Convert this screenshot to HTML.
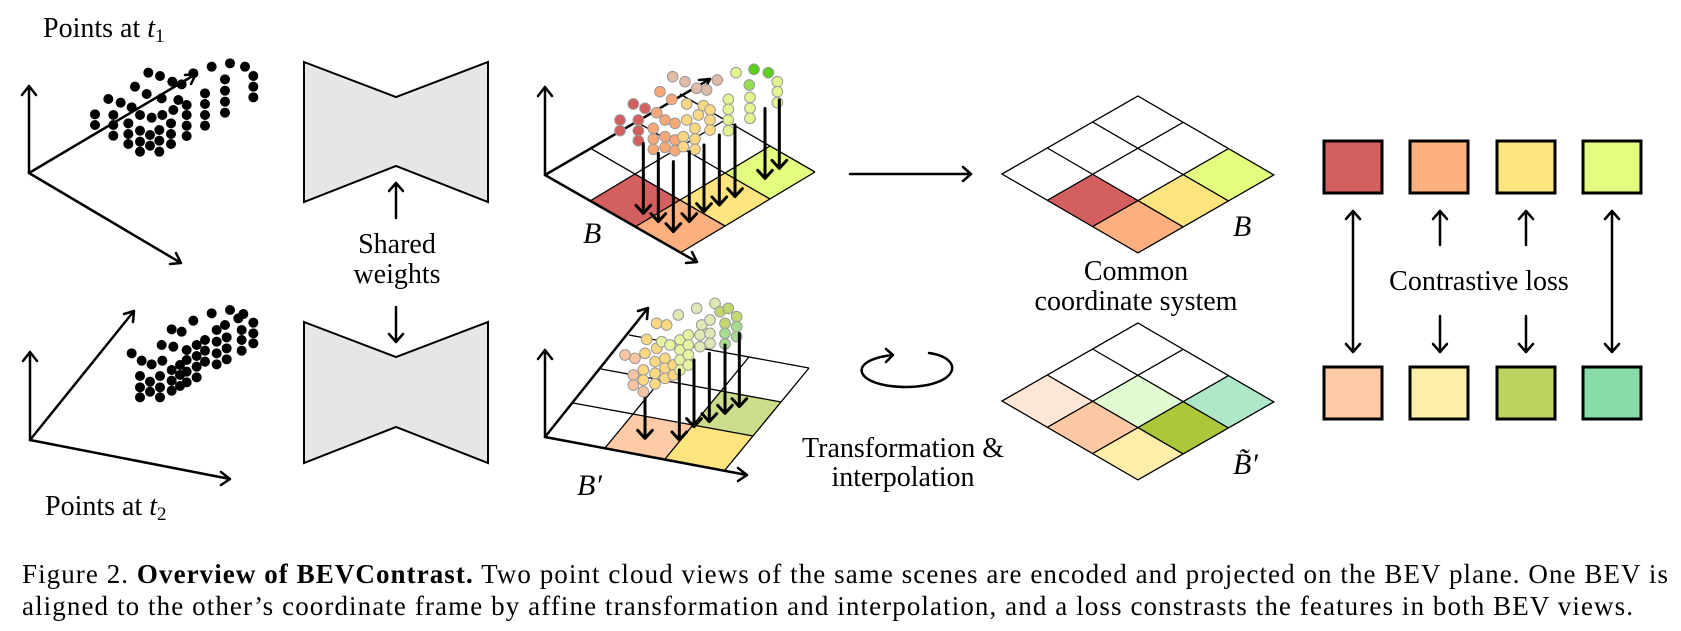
<!DOCTYPE html>
<html><head><meta charset="utf-8"><style>
html,body{margin:0;padding:0;background:#fff;}
svg{display:block;font-family:"Liberation Serif","Times New Roman",serif;}
text{font-family:"Liberation Serif","Times New Roman",serif;fill:#000;}
</style></head><body>
<svg width="1681" height="631" viewBox="0 0 1681 631" xmlns="http://www.w3.org/2000/svg" font-family="Liberation Serif, serif">
<style>
.ax{stroke:#000;stroke-width:2.5;fill:none;stroke-linecap:round;stroke-linejoin:round;}
</style>

<text x="43" y="37" font-size="28">Points at <tspan font-style="italic">t</tspan><tspan font-size="19" dy="5">1</tspan></text>
<text x="45" y="515" font-size="28">Points at <tspan font-style="italic">t</tspan><tspan font-size="19" dy="5">2</tspan></text>

<g class="ax">
<path d="M29 173 L29 86 M22 95 L29 86 L36 95"/>
<path d="M29 173 L196 74 M185 75 L196 74 L191 84"/>
<path d="M29 173 L181 263 M176 253 L181 263 L170 264"/>
<path d="M30 440 L30 352 M23 361 L30 352 L37 361"/>
<path d="M30 440 L134 311 M124 314 L134 311 L133 322"/>
<path d="M30 440 L230 479 M221 472 L230 479 L221 485"/>
</g>

<g transform="scale(0.33333)" fill="#000">
<g>
<circle cx="445" cy="218" r="15"/><circle cx="480" cy="228" r="15"/><circle cx="517" cy="245" r="15"/><circle cx="545" cy="253" r="15"/><circle cx="580" cy="220" r="15"/><circle cx="635" cy="200" r="15"/><circle cx="690" cy="190" r="15"/><circle cx="735" cy="200" r="15"/><circle cx="760" cy="228" r="15"/><circle cx="760" cy="260" r="15"/><circle cx="760" cy="292" r="15"/><circle cx="675" cy="238" r="15"/><circle cx="675" cy="272" r="15"/><circle cx="675" cy="305" r="15"/><circle cx="675" cy="338" r="15"/><circle cx="615" cy="280" r="15"/><circle cx="615" cy="312" r="15"/><circle cx="615" cy="345" r="15"/><circle cx="615" cy="377" r="15"/><circle cx="405" cy="260" r="15"/><circle cx="440" cy="282" r="15"/><circle cx="485" cy="295" r="15"/><circle cx="535" cy="300" r="15"/><circle cx="560" cy="315" r="15"/><circle cx="560" cy="345" r="15"/><circle cx="560" cy="377" r="15"/><circle cx="560" cy="408" r="15"/><circle cx="325" cy="297" r="15"/><circle cx="362" cy="308" r="15"/><circle cx="395" cy="322" r="15"/><circle cx="420" cy="345" r="15"/><circle cx="455" cy="353" r="15"/><circle cx="487" cy="345" r="15"/><circle cx="520" cy="330" r="15"/><circle cx="285" cy="343" r="15"/><circle cx="285" cy="375" r="15"/><circle cx="340" cy="345" r="15"/><circle cx="340" cy="375" r="15"/><circle cx="340" cy="407" r="15"/><circle cx="385" cy="370" r="15"/><circle cx="385" cy="402" r="15"/><circle cx="385" cy="432" r="15"/><circle cx="420" cy="392" r="15"/><circle cx="420" cy="425" r="15"/><circle cx="420" cy="455" r="15"/><circle cx="450" cy="405" r="15"/><circle cx="450" cy="437" r="15"/><circle cx="478" cy="390" r="15"/><circle cx="478" cy="422" r="15"/><circle cx="478" cy="455" r="15"/><circle cx="513" cy="370" r="15"/><circle cx="513" cy="402" r="15"/><circle cx="513" cy="432" r="15"/>
</g>
<g>
<circle cx="635" cy="940" r="15"/><circle cx="690" cy="930" r="15"/><circle cx="730" cy="942" r="15"/><circle cx="715" cy="955" r="15"/><circle cx="760" cy="968" r="15"/><circle cx="760" cy="1000" r="15"/><circle cx="760" cy="1030" r="15"/><circle cx="725" cy="990" r="15"/><circle cx="725" cy="1020" r="15"/><circle cx="725" cy="1052" r="15"/><circle cx="675" cy="975" r="15"/><circle cx="650" cy="990" r="15"/><circle cx="680" cy="1012" r="15"/><circle cx="680" cy="1045" r="15"/><circle cx="680" cy="1078" r="15"/><circle cx="650" cy="1025" r="15"/><circle cx="650" cy="1060" r="15"/><circle cx="650" cy="1093" r="15"/><circle cx="580" cy="962" r="15"/><circle cx="515" cy="988" r="15"/><circle cx="545" cy="995" r="15"/><circle cx="485" cy="1035" r="15"/><circle cx="395" cy="1060" r="15"/><circle cx="425" cy="1082" r="15"/><circle cx="455" cy="1093" r="15"/><circle cx="487" cy="1082" r="15"/><circle cx="520" cy="1040" r="15"/><circle cx="560" cy="1050" r="15"/><circle cx="590" cy="1035" r="15"/><circle cx="615" cy="1020" r="15"/><circle cx="615" cy="1052" r="15"/><circle cx="615" cy="1085" r="15"/><circle cx="590" cy="1068" r="15"/><circle cx="590" cy="1100" r="15"/><circle cx="590" cy="1132" r="15"/><circle cx="560" cy="1080" r="15"/><circle cx="560" cy="1115" r="15"/><circle cx="560" cy="1147" r="15"/><circle cx="540" cy="1095" r="15"/><circle cx="540" cy="1125" r="15"/><circle cx="540" cy="1158" r="15"/><circle cx="515" cy="1110" r="15"/><circle cx="515" cy="1142" r="15"/><circle cx="515" cy="1172" r="15"/><circle cx="480" cy="1128" r="15"/><circle cx="480" cy="1162" r="15"/><circle cx="480" cy="1192" r="15"/><circle cx="450" cy="1145" r="15"/><circle cx="450" cy="1175" r="15"/><circle cx="420" cy="1128" r="15"/><circle cx="420" cy="1162" r="15"/><circle cx="420" cy="1192" r="15"/>
</g>
</g>

<polygon points="304,62 396,97 488,62 488,202 396,166 304,202" fill="#e6e6e6" stroke="#000" stroke-width="2"/>
<polygon points="304,322 396,357 488,322 488,463 396,427 304,463" fill="#e6e6e6" stroke="#000" stroke-width="2"/>
<g class="ax" stroke-width="2">
<path d="M396 218 L396 183 M389 191 L396 183 L403 191"/>
<path d="M396 307 L396 342 M389 334 L396 342 L403 334"/>
</g>
<text x="397" y="253" font-size="28" text-anchor="middle">Shared</text>
<text x="397" y="283" font-size="28" text-anchor="middle">weights</text>

<g transform="matrix(45,-27,45,26,545,175)">
<rect x="0" y="1" width="1" height="1" fill="#d45f5f"/>
<rect x="0" y="2" width="1" height="1" fill="#fdb07f"/>
<rect x="1" y="2" width="1" height="1" fill="#fde47f"/>
<rect x="2" y="2" width="1" height="1" fill="#e3fd7f"/>
<path vector-effect="non-scaling-stroke" stroke="#000" stroke-width="1.3" fill="none" d="M1 0 L1 3 M2 0 L2 3 M3 0 L3 3 M0 1 L3 1 M0 2 L3 2 M0 3 L3 3"/>
</g>
<g class="ax">
<path d="M545 175 L545 87 M538 96 L545 87 L552 96"/>
<path d="M545 175 L710 79 M699 80 L710 79 L705 89"/>
<path d="M545 175 L697 262 M692 252 L697 262 L686 263"/>
</g>

<g transform="matrix(28,-34,60,11,545,437)">
<rect x="0" y="1" width="1" height="1" fill="#fecba7"/>
<rect x="0" y="2" width="1" height="1" fill="#fde47f"/>
<rect x="1" y="2" width="1" height="1" fill="#cbdc8a"/>
<path vector-effect="non-scaling-stroke" stroke="#000" stroke-width="1.3" fill="none" d="M1 0 L1 3 M2 0 L2 3 M3 0 L3 3 M0 1 L3 1 M0 2 L3 2 M0 3 L3 3"/>
</g>
<g class="ax">
<path d="M545 437 L545 350 M538 359 L545 350 L552 359"/>
<path d="M545 437 L648 308 M638 311 L648 308 L647 319"/>
<path d="M545 437 L747 475 M738 468 L747 475 L738 481"/>
</g>

<g transform="translate(480,40) scale(0.33333)" stroke="#999" stroke-width="3">
<g fill="#d45f5f"><circle cx="460" cy="192" r="16"/><circle cx="495" cy="205" r="16"/><circle cx="420" cy="240" r="16"/><circle cx="420" cy="272" r="16"/><circle cx="475" cy="240" r="16"/><circle cx="475" cy="272" r="16"/><circle cx="475" cy="302" r="16"/></g>
<g fill="#e2bba8"><circle cx="578" cy="110" r="16"/><circle cx="615" cy="125" r="16"/><circle cx="650" cy="145" r="16"/><circle cx="680" cy="150" r="16"/><circle cx="712" cy="120" r="16"/></g>
<g fill="#f8a878"><circle cx="540" cy="155" r="16"/><circle cx="575" cy="178" r="16"/><circle cx="530" cy="218" r="16"/><circle cx="520" cy="265" r="16"/><circle cx="520" cy="297" r="16"/><circle cx="520" cy="328" r="16"/><circle cx="555" cy="240" r="16"/><circle cx="555" cy="290" r="16"/><circle cx="555" cy="322" r="16"/><circle cx="585" cy="250" r="16"/><circle cx="585" cy="300" r="16"/><circle cx="585" cy="332" r="16"/></g>
<g fill="#fdd882"><circle cx="620" cy="192" r="16"/><circle cx="620" cy="240" r="16"/><circle cx="655" cy="225" r="16"/><circle cx="670" cy="197" r="16"/><circle cx="690" cy="210" r="16"/><circle cx="690" cy="240" r="16"/><circle cx="690" cy="270" r="16"/><circle cx="645" cy="265" r="16"/><circle cx="645" cy="297" r="16"/><circle cx="645" cy="328" r="16"/><circle cx="610" cy="290" r="16"/><circle cx="610" cy="320" r="16"/></g>
<g fill="#e2f590"><circle cx="768" cy="98" r="16"/><circle cx="745" cy="178" r="16"/><circle cx="745" cy="208" r="16"/><circle cx="745" cy="240" r="16"/><circle cx="745" cy="272" r="16"/><circle cx="810" cy="172" r="16"/><circle cx="810" cy="205" r="16"/><circle cx="810" cy="235" r="16"/><circle cx="892" cy="125" r="16"/><circle cx="892" cy="155" r="16"/><circle cx="892" cy="188" r="16"/></g>
<g fill="#5ccf1c"><circle cx="822" cy="88" r="16"/><circle cx="865" cy="98" r="16"/></g>
<circle cx="808" cy="135" r="16" fill="#90e050"/>

<g fill="#f8c4a2"><circle cx="435" cy="945" r="16"/><circle cx="465" cy="955" r="16"/><circle cx="460" cy="1005" r="16"/><circle cx="460" cy="1035" r="16"/><circle cx="490" cy="1055" r="16"/></g>
<g fill="#fcd882"><circle cx="530" cy="850" r="16"/><circle cx="560" cy="855" r="16"/><circle cx="500" cy="898" r="16"/><circle cx="495" cy="940" r="16"/><circle cx="530" cy="925" r="16"/><circle cx="490" cy="990" r="16"/><circle cx="490" cy="1020" r="16"/><circle cx="525" cy="965" r="16"/><circle cx="525" cy="1000" r="16"/><circle cx="525" cy="1032" r="16"/><circle cx="555" cy="955" r="16"/><circle cx="555" cy="985" r="16"/><circle cx="555" cy="1015" r="16"/><circle cx="580" cy="975" r="16"/><circle cx="580" cy="1005" r="16"/></g>
<g fill="#e8f5a0"><circle cx="545" cy="905" r="16"/><circle cx="570" cy="915" r="16"/><circle cx="600" cy="900" r="16"/><circle cx="600" cy="930" r="16"/><circle cx="600" cy="960" r="16"/><circle cx="600" cy="990" r="16"/><circle cx="625" cy="885" r="16"/><circle cx="625" cy="915" r="16"/><circle cx="625" cy="945" r="16"/><circle cx="625" cy="975" r="16"/></g>
<g fill="#dde8b5"><circle cx="595" cy="825" r="16"/><circle cx="650" cy="805" r="16"/><circle cx="705" cy="790" r="16"/><circle cx="665" cy="855" r="16"/><circle cx="690" cy="840" r="16"/><circle cx="660" cy="885" r="16"/><circle cx="690" cy="880" r="16"/><circle cx="660" cy="920" r="16"/><circle cx="690" cy="910" r="16"/></g>
<g fill="#c2d870"><circle cx="720" cy="815" r="16"/><circle cx="745" cy="805" r="16"/><circle cx="770" cy="830" r="16"/><circle cx="735" cy="850" r="16"/></g>
<g fill="#a8dc90"><circle cx="770" cy="860" r="16"/><circle cx="735" cy="880" r="16"/><circle cx="770" cy="890" r="16"/><circle cx="735" cy="912" r="16"/></g>

<g stroke="#000" stroke-width="9" fill="none" stroke-linecap="round" stroke-linejoin="round">
<path d="M490 310 V520 M468 496 L490 520 L512 496"/>
<path d="M535 340 V545 M513 521 L535 545 L557 521"/>
<path d="M580 365 V575 M558 551 L580 575 L602 551"/>
<path d="M628 335 V545 M606 521 L628 545 L650 521"/>
<path d="M672 315 V515 M650 491 L672 515 L694 491"/>
<path d="M718 285 V495 M696 471 L718 495 L740 471"/>
<path d="M765 255 V470 M743 446 L765 470 L787 446"/>
<path d="M855 205 V415 M833 391 L855 415 L877 391"/>
<path d="M898 180 V385 M876 361 L898 385 L920 361"/>
<path d="M495 1075 V1195 M473 1171 L495 1195 L517 1171"/>
<path d="M598 990 V1200 M576 1176 L598 1200 L620 1176"/>
<path d="M642 960 V1160 M620 1136 L642 1160 L664 1136"/>
<path d="M688 940 V1145 M666 1121 L688 1145 L710 1121"/>
<path d="M735 915 V1120 M713 1096 L735 1120 L757 1096"/>
<path d="M778 880 V1100 M756 1076 L778 1100 L800 1076"/>
</g>
</g>

<text x="583" y="243" font-size="30" font-style="italic">B</text>
<text x="577" y="495" font-size="30" font-style="italic">B′</text>

<g class="ax">
<path d="M850 174 L971 174 M963 167 L971 174 L963 181"/>
<path d="M929 353 C965 358 960 386 907 387 C854 387 845 360 893 355 M886 349 L893 355 L886 362"/>
</g>
<text x="903" y="457" font-size="28" text-anchor="middle">Transformation &amp;</text>
<text x="903" y="486" font-size="28" text-anchor="middle">interpolation</text>

<g transform="matrix(45.3,-26,45.3,26.3,1002,174)">
<rect x="0" y="1" width="1" height="1" fill="#d45f5f"/>
<rect x="0" y="2" width="1" height="1" fill="#fdb07f"/>
<rect x="1" y="2" width="1" height="1" fill="#fde47f"/>
<rect x="2" y="2" width="1" height="1" fill="#e3fd7f"/>
<path vector-effect="non-scaling-stroke" stroke="#000" stroke-width="1.3" fill="none" d="M0 0 H3 V3 H0 Z M1 0 V3 M2 0 V3 M0 1 H3 M0 2 H3"/>
</g>
<g transform="matrix(45.3,-26,45.3,26.3,1002,401)">
<rect x="0" y="0" width="1" height="1" fill="#fee6d6"/>
<rect x="0" y="1" width="1" height="1" fill="#fdc9a5"/>
<rect x="1" y="1" width="1" height="1" fill="#e1fcd3"/>
<rect x="1" y="2" width="1" height="1" fill="#aac83a"/>
<rect x="0" y="2" width="1" height="1" fill="#feeeaa"/>
<rect x="2" y="2" width="1" height="1" fill="#aee8c8"/>
<path vector-effect="non-scaling-stroke" stroke="#000" stroke-width="1.3" fill="none" d="M0 0 H3 V3 H0 Z M1 0 V3 M2 0 V3 M0 1 H3 M0 2 H3"/>
</g>
<text x="1233" y="236" font-size="30" font-style="italic">B</text>
<text x="1233" y="474" font-size="30" font-style="italic">B̃′</text>
<text x="1136" y="280" font-size="28" text-anchor="middle">Common</text>
<text x="1136" y="310" font-size="28" text-anchor="middle">coordinate system</text>

<g stroke="#000" stroke-width="3">
<rect x="1324" y="141" width="58" height="52" fill="#d45f5f"/>
<rect x="1410" y="141" width="58" height="52" fill="#fdb07f"/>
<rect x="1497" y="141" width="58" height="52" fill="#fde47f"/>
<rect x="1583" y="141" width="58" height="52" fill="#e3fd7f"/>
<rect x="1324" y="367" width="58" height="52" fill="#fecba7"/>
<rect x="1410" y="367" width="58" height="52" fill="#feeeaa"/>
<rect x="1497" y="367" width="58" height="52" fill="#bcd45f"/>
<rect x="1583" y="367" width="58" height="52" fill="#88dca8"/>
</g>
<g class="ax" stroke-width="2">
<path d="M1353 211 V352 M1346 219 L1353 211 L1360 219 M1346 344 L1353 352 L1360 344"/>
<path d="M1440 245 V211 M1433 219 L1440 211 L1447 219"/>
<path d="M1526 245 V211 M1519 219 L1526 211 L1533 219"/>
<path d="M1440 316 V352 M1433 344 L1440 352 L1447 344"/>
<path d="M1526 316 V352 M1519 344 L1526 352 L1533 344"/>
<path d="M1612 211 V352 M1605 219 L1612 211 L1619 219 M1605 344 L1612 352 L1619 344"/>
</g>
<text x="1479" y="290" font-size="28" text-anchor="middle">Contrastive loss</text>

<text x="22" y="583" font-size="27" textLength="1646" lengthAdjust="spacing">Figure 2. <tspan font-weight="bold">Overview of BEVContrast.</tspan> Two point cloud views of the same scenes are encoded and projected on the BEV plane. One BEV is</text>
<text x="22" y="615" font-size="27" textLength="1611" lengthAdjust="spacing">aligned to the other’s coordinate frame by affine transformation and interpolation, and a loss constrasts the features in both BEV views.</text>
</svg>
</body></html>
